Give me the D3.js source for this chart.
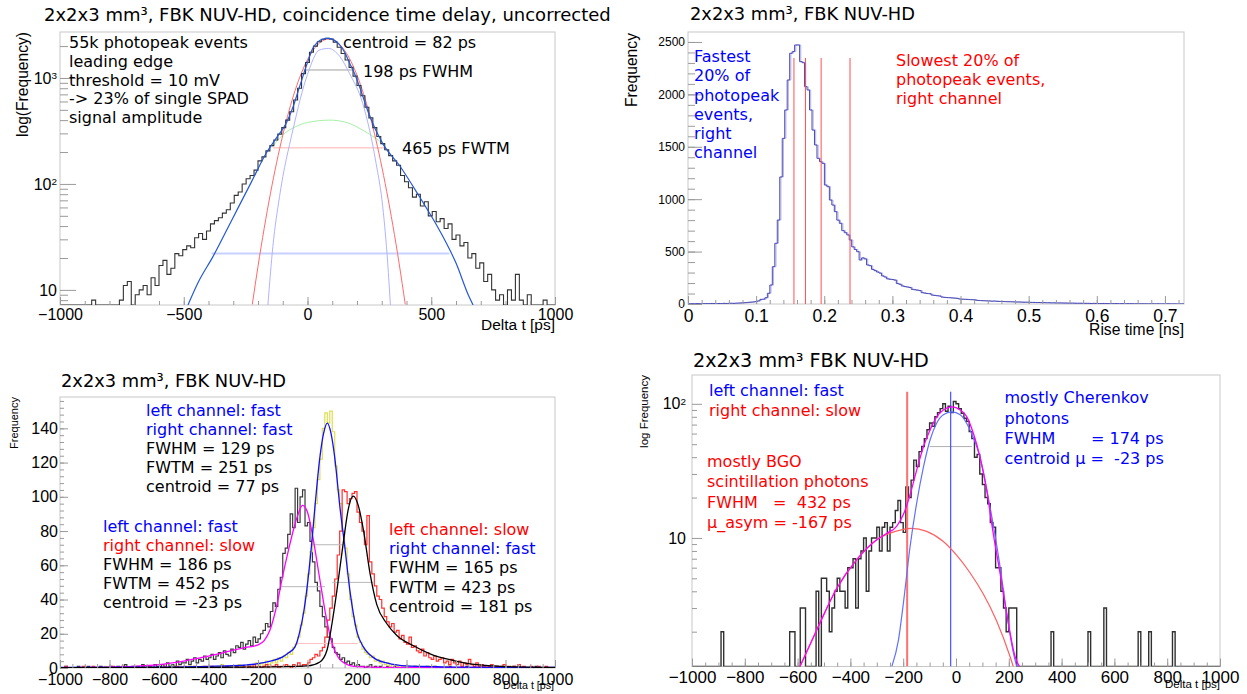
<!DOCTYPE html>
<html><head><meta charset="utf-8">
<script src="https://cdn.jsdelivr.net/npm/d3@7"></script>
<style>body{margin:0;background:#fff}svg{display:block}text{white-space:pre}</style>
</head><body><svg id="chart" width="1247" height="694"></svg>
<script>
// ================= DATA =================
// Panel 1: coincidence time delay (uncorrected), 16 ps bins from -1000 ps
const p1BinStart = -1000, p1BinWidth = 16;
const p1Counts = [
 0,0,0,0,0,0,0,0,8,0, 0,0,0,0,0,8,11,12,7,9, 10,11,9,13,11,17,19,14,16,22,
 21,24,26,25,31,34,30,36,42,45, 48,53,57,66,78,84,100,112,120,135,
 165,180,205,230,260,295,340,400,480,620, 800,1100,1400,1750,2000,2200,2320,2370,2330,2180,
 1950,1700,1480,1260,1040,850,680,530,420,340, 280,240,210,185,165,150,120,105,92,75,
 80,62,68,50,55,44,47,38,42,30, 33,26,28,20,22,16,18,12,14,10,
 8,9,0,10,8,14,8,0,9,0, 0,0,8,0,0];
const p1FitTotal = [[-483,7.2],[-440,12],[-382,20.6],[-301,48],[-227,104],[-167,195],[-120,284],[-86,374],[-60,520],[-32,828],[0,1400],[21,1900],[40,2170],[60,2320],[82,2368],[105,2300],[130,2050],[150,1750],[169,1400],[190,1100],[210,828],[250,445],[304,240],[371,150],[452,76],[532,37],[600,17.9],[653,8.6],[669,7.2]];
const p1FitRed = [[-223,7.3],[-200,16.7],[-150,80.7],[-100,288],[-50,763],[0,1491],[50,2155],[86,2330],[120,2173],[170,1522],[220,788],[270,302],[320,85],[370,17.9],[395,7.3]];
const p1FitLavender = [[-160,7.2],[-140,25.6],[-113,76],[-59,323],[0,1080],[48,1837],[85,1900],[130,1600],[170,1100],[223,577],[277,157],[304,61],[324,18],[335,7.2]];
const p1FitGreen = [[-145,220],[-100,290],[-50,345],[0,380],[89,400],[150,385],[200,345],[250,295],[290,255],[315,225]];
const p1WidthLines = [  // [level, from, to]
 [1190,-17,181],[219,-140,312],[22,-388,573]];
const p1XTicks = [-1000,-500,0,500,1000];
const p1YTicks = [10,100,1000];

// Panel 2: rise time, 200 bins of 0.00364 ns
const p2BinStart = 0, p2BinWidth = 0.00364;
const p2Counts = [
 2,3,2,4,3,2,3,4,3,5,4,3,5,4,6,5,6,7,6,8,
 9,10,12,13,16,18,20,23,30,44,46,60,102,181,356,579,801,1212,1580,1851,
 2137,2392,2408,2471,2471,2312,2302,2073,2042,1851,1660,1517,1390,1358,1342,1135,1119,992,944,881,
 800,770,700,680,659,611,545,520,499,420,440,430,372,365,330,318,305,295,268,258,
 240,236,233,228,195,188,172,166,162,158,140,136,132,128,108,104,100,98,85,82,
 79,76,66,63,61,60,58,56,54,48,46,45,44,42,41,40,35,33,32,31,
 30,29,27,28,26,25,24,23,22,22,21,20,19,19,18,17,17,16,15,15,
 14,14,13,13,12,12,11,11,10,10,10,9,9,8,8,8,7,7,7,6,
 6,6,5,6,5,5,4,5,4,4,4,3,4,3,3,3,2,3,3,2,
 2,3,2,2,2,1,2,2,1,2,1,1,1,2,1,1,1,0,1,1];
const p2CutLines = [0.1555,0.1724,0.1954,0.2378];
const p2XTicks = [0,0.1,0.2,0.3,0.4,0.5,0.6,0.7];
const p2YTicks = [0,500,1000,1500,2000,2500];

// Panel 3: fast/slow selections, 10 ps bins from -1000
const p3BinStart = -1000, p3BinWidth = 10;
const p3FastSlow = [
 0,0,1,0,0,0,0,1,0,0, 0,1,0,0,0,0,1,0,0,0, 1,0,0,1,0,0,2,0,0,1, 0,1,0,2,0,1,1,0,2,1,
 1,2,0,3,1,2,1,4,2,3, 3,5,2,4,6,3,5,4,7,5, 6,8,5,7,9,6,10,8,7,11, 9,13,12,15,11,14,16,13,18,15,
 17,20,22,26,24,33,38,36,46,53, 67,70,78,90,82,105,85,100,104,83,
 85,74,62,50,45,36,30,24,18,17, 12,9,8,5,6,3,4,2,3,1, 2,1,1,0,1,2,0,1,0,1,
 0,0,1,0,0,1,0,0,0,1, 0,0,0,1,0,0,0,0,1,0, 0,1,0,0,0,0,0,1,0,0, 0,0,0,0,1,0,0,0,0,0,
 1,0,0,0,0,0,1,0,0,0, 0,0,0,1,0,0,0,0,0,0, 0,0,1,0,0,0,0,0,0,0];
const p3FastFast = [
 0,0,0,0,0,0,0,0,0,0, 0,0,0,0,0,0,0,0,1,0, 0,0,0,0,0,0,0,0,0,0, 0,0,0,1,0,0,0,0,0,0,
 0,0,0,0,0,1,0,0,0,0, 0,0,1,0,0,0,0,1,0,0, 1,0,0,1,0,2,0,1,1,0, 1,0,2,1,0,1,2,1,0,3,
 2,3,1,4,2,3,5,3,6,4, 7,6,9,8,12,14,18,25,32,42,
 55,68,82,96,110,122,140,149,143,150, 138,118,104,96,80,70,55,40,30,25, 18,15,11,9,8,6,7,4,5,3,
 4,2,3,1,2,2,1,0,1,1, 0,1,0,0,1,0,0,0,0,1, 0,0,0,0,0,0,1,0,0,0, 0,0,0,0,0,0,0,0,0,0,
 0,0,1,0,0,0,0,0,0,0, 0,0,0,0,0,0,0,0,0,0, 0,0,0,0,0,0,0,0,0,0];
const p3SlowFast = [
 0,0,1,0,0,0,0,0,0,1, 0,0,0,1,0,0,0,0,0,0, 0,1,0,0,0,1,0,0,0,0, 0,0,0,1,0,0,1,0,0,0,
 0,0,1,0,0,0,0,1,0,0, 1,0,0,0,1,0,0,0,1,0, 0,1,0,0,0,1,0,1,0,0, 0,1,0,0,1,0,1,0,2,0,
 1,0,1,2,0,1,1,2,0,1, 1,2,1,0,2,1,3,1,2,2,
 3,5,6,8,7,10,12,18,28,35, 42,52,66,80,104,103,96,99,102,103, 91,85,80,72,89,62,55,48,42,40,
 35,30,27,24,26,21,22,17,19,15, 14,18,12,13,10,9,11,7,9,6, 5,7,4,5,6,3,4,2,5,3, 2,4,1,3,2,5,2,1,3,1,
 2,1,0,1,2,0,1,0,1,2, 0,1,0,1,0,2,0,1,0,0, 1,0,0,1,0,0,1,0,0,0];
const p3FitFastFast = [[-1000,0.3],[-600,0.5],[-400,1],[-300,1.3],[-200,2.5],[-150,4],[-100,6.5],[-75,9],[-50,12.5],[-30,22],[-15,33],[-3,45.5],[17,72.8],[30,94],[50,123],[65,137],[80,143],[95,137],[110,123],[131,94],[151,70.5],[171,45.5],[185,32],[198,22],[225,12.5],[250,8],[279,4.9],[320,3],[360,1.8],[400,1.2],[500,0.8],[600,0.5],[1000,0.3]];
const p3FitFastSlow = [[-1000,0.2],[-800,0.5],[-700,1],[-600,2],[-500,4],[-450,5.5],[-400,7],[-350,8.5],[-300,10.5],[-250,12],[-200,13.5],[-175,16],[-152,22],[-125,36],[-100,54],[-75,70],[-57,80.6],[-40,89],[-20,95],[0,91],[21.5,76.6],[48,53.3],[75,30],[100,14],[125,6],[150,2.8],[175,1.3],[200,0.8],[300,0.4],[1000,0.2]];
const p3FitSlowFast = [[-1000,0.2],[-500,0.3],[-200,0.5],[0,1.2],[50,3.5],[79,10.5],[99,26],[119,45.5],[146,74.7],[165,93],[185,100.4],[205,95],[226,80.6],[253,55],[280,37],[320,26],[361,19],[428,13],[500,8],[587,4.5],[650,2.5],[750,1.2],[850,0.6],[1000,0.3]];
const p3WidthLines = [[72,13,142],[47.5,-115,71],[50,100,265]];
const p3TenthLines = [[14.3,-48,203]];
const p3XTicks = [-1000,-800,-600,-400,-200,0,200,400,600,800,1000];
const p3YTicks = [0,20,40,60,80,100,120,140];

// Panel 4: fast left / slow right, log scale, 10 ps bins from -1000
const p4BinStart = -1000, p4BinWidth = 10;
const p4Counts = [
 0,0,0,0,0,0,0,0,0,0, 0,2,0,0,0,0,0,0,0,0, 0,0,0,0,0,0,0,0,0,0, 0,0,0,0,0,0,0,2,2,0,
 0,3,3,0,0,0,0,4,0,5, 5,4,2,3,4,5,4,4,3,6, 6,7,3,7,8,10,4,8,10,10, 12,8,12,13,8,12,13,16,19,13,
 11,24,20,27,38,34,44,48,55,64, 72,68,80,86,92,100,88,96,86,104,
 100,92,85,78,74,62,55,40,42,30, 25,20,18,13,12,6,6,4,3,2, 3,3,3,0,0,0,0,0,0,0,
 0,0,0,0,0,0,2,0,0,0, 0,0,0,0,0,0,0,0,0,0, 2,0,0,0,0,0,3,0,0,0, 0,0,0,0,0,0,0,0,0,2,
 0,0,0,2,0,0,0,0,0,0, 0,0,2,0,0,0,0,0,0,0, 0,0,0,0,0,0,0,0,0,0];
const p4FitTotal = [[-591,1.1],[-528,2.05],[-452,4.2],[-376,6.9],[-300,9.7],[-263,10.8],[-225,12.2],[-199,15],[-174,21],[-149,32],[-123,48],[-98,64],[-73,80],[-48,90],[-16,95],[16,90],[41,80],[66,60],[91,40],[116,22.8],[141,10.8],[167,5.45],[192,2.74],[224,1.3],[240,1.1]];
const p4FitCherenkov = [[-243,1.1],[-218,1.73],[-199,3.3],[-174,8.6],[-149,18.2],[-123,34],[-98,54],[-73,72],[-48,83],[-16,87],[16,83],[53,64],[91,40],[129,17],[167,6.1],[192,2.74],[217,1.4],[230,1.1]];
const p4FitBGO = [[-591,1.1],[-528,2.05],[-452,4.2],[-376,6.9],[-300,9.7],[-263,10.6],[-199,11.6],[-170,11.8],[-111,11.2],[-48,9.4],[3,7.4],[53,5.5],[104,3.8],[154,2.4],[205,1.3],[217,1.1]];
const p4WidthLines = [[48,-100,60]];
const p4Markers = [-185,-20];  // red (BGO), blue (Cherenkov)
const p4XTicks = [-1000,-800,-600,-400,-200,0,200,400,600,800,1000];
const p4YTicks = [10,100];

// ================= DRAWING =================
const svg = d3.select("#chart");
const TF = "DejaVu Sans", AF = "Liberation Sans";
let clipN = 0;

function panel(o) {
  const g = svg.append("g");
  const x = d3.scaleLinear().domain(o.xd).range([o.l, o.r]);
  const y = (o.log ? d3.scaleLog() : d3.scaleLinear()).domain(o.yd).range([o.b, o.t]);
  const id = "clip" + (clipN++);
  svg.append("clipPath").attr("id", id).append("rect")
    .attr("x", o.l).attr("y", o.t).attr("width", o.r - o.l).attr("height", o.b - o.t);
  g.append("rect").attr("x", o.l).attr("y", o.t).attr("width", o.r - o.l).attr("height", o.b - o.t)
    .attr("fill", "none").attr("stroke", "#c8c8c8").attr("stroke-width", 1);
  const plot = g.append("g").attr("clip-path", `url(#${id})`);
  return {g, plot, x, y, o};
}

function styleAxis(s) {
  s.select(".domain").remove();
  s.selectAll(".tick line").attr("stroke", "#9a9a9a");
  s.selectAll(".tick text").attr("fill", "#000");
}

function axes(P, a) {
  const {g, x, y, o} = P;
  g.append("g").attr("transform", `translate(0,${o.b})`)
    .call(d3.axisBottom(x).tickValues(a.xMinor).tickSize(-a.xMinLen).tickFormat(""))
    .call(styleAxis);
  g.append("g").attr("transform", `translate(0,${o.b})`)
    .attr("font-family", AF).attr("font-size", a.xFont)
    .call(d3.axisBottom(x).tickValues(a.xMajor).tickSize(-a.xMajLen).tickPadding(a.xPad).tickFormat(a.xFmt))
    .call(styleAxis)
    .call(s => s.selectAll("text").attr("font-family", AF).attr("font-size", a.xFont));
  g.append("g").attr("transform", `translate(${o.l},0)`)
    .call(d3.axisLeft(y).tickValues(a.yMinor).tickSize(-a.yMinLen).tickFormat(""))
    .call(styleAxis);
  const gy = g.append("g").attr("transform", `translate(${o.l},0)`)
    .call(d3.axisLeft(y).tickValues(a.yMajor).tickSize(-a.yMajLen).tickPadding(a.yPad).tickFormat(a.yFmt || (d => d)))
    .call(styleAxis)
    .call(s => s.selectAll("text").attr("font-family", AF).attr("font-size", a.yFont));
  if (a.powers) {
    gy.selectAll(".tick text").each(function(d) {
      const e = Math.round(Math.log10(d));
      const t = d3.select(this).text("10");
      if (e > 1) t.append("tspan").attr("dy", "-0.45em").attr("font-size", "0.62em").text(e);
    });
  }
}

function histPath(P, start, w, vals) {
  const [lo, hi] = P.y.domain();
  const c = v => P.y(Math.max(lo, Math.min(hi, v)));
  let p = "";
  vals.forEach((v, i) => {
    const x0 = P.x(start + i * w), x1 = P.x(start + (i + 1) * w);
    p += (i === 0 ? `M${x0},${c(v)}` : `V${c(v)}`) + `H${x1}`;
  });
  return p;
}
function drawHist(P, start, w, vals, color, width) {
  P.plot.append("path").attr("d", histPath(P, start, w, vals)).attr("fill", "none")
    .attr("stroke", color).attr("stroke-width", width || 1);
}
function drawCurve(P, pts, color, width) {
  const line = d3.line().x(d => P.x(d[0])).y(d => P.y(d[1])).curve(d3.curveMonotoneX);
  P.plot.append("path").attr("d", line(pts)).attr("fill", "none")
    .attr("stroke", color).attr("stroke-width", width || 1.2);
}
function drawHLines(P, lines, color, width) {
  P.plot.selectAll(null).data(lines).enter().append("line")
    .attr("x1", d => P.x(d[1])).attr("x2", d => P.x(d[2]))
    .attr("y1", d => P.y(d[0])).attr("y2", d => P.y(d[0]))
    .attr("stroke", color).attr("stroke-width", width || 1);
}
function text(x, y, s, opt) {
  opt = opt || {};
  const t = svg.append("text").attr("x", x).attr("y", y).text(s)
    .attr("font-family", opt.family || TF).attr("font-size", opt.size || 16)
    .attr("fill", opt.color || "#000").attr("text-anchor", opt.anchor || "start");
  if (opt.rotate) t.attr("transform", `rotate(-90,${x},${y})`);
  if (opt.fit) {
    const w = t.node().getComputedTextLength();
    t.attr("font-size", (opt.size || 16) * opt.fit / w);
  }
  return t;
}
function block(x, y0, dy, lines, color, size) {
  lines.forEach((s, i) => text(x, y0 + i * dy, s, {color, size: size || 16}));
}
const fmtInt = d3.format("d");

// ---------- Panel 1 ----------
const P1 = panel({l: 60, r: 555, t: 32, b: 305, xd: [-1000, 1000], yd: [7.2, 2716], log: true});
axes(P1, {
  xMajor: p1XTicks, xMinor: d3.range(-1000, 1001, 100), xMajLen: 8, xMinLen: 4, xPad: 3.5, xFont: 16, xFmt: fmtInt,
  yMajor: p1YTicks, yMinor: [8, 9, 20, 30, 40, 50, 60, 70, 80, 90, 200, 300, 400, 500, 600, 700, 800, 900, 2000],
  yMajLen: 16, yMinLen: 8, yPad: 3, yFont: 16, powers: true
});
drawHLines(P1, [p1WidthLines[2]], "#c8d0ff", 2);
drawHLines(P1, [p1WidthLines[1]], "#ffb0b0", 1);
drawHLines(P1, [p1WidthLines[0]], "#a0a0a0", 1);
drawCurve(P1, p1FitGreen, "#a8f0a8", 1);
drawCurve(P1, p1FitLavender, "#b0b4ff", 1);
drawCurve(P1, p1FitRed, "#ff6a6a", 1);
drawHist(P1, p1BinStart, p1BinWidth, p1Counts, "#333", 1.1);
drawCurve(P1, p1FitTotal, "#2358d8", 1.2);
text(44, 21, "2x2x3 mm³, FBK NUV-HD, coincidence time delay, uncorrected", {size: 18, fit: 567});
text(28, 32, "log(Frequency)", {family: AF, size: 16, rotate: true, anchor: "end", fit: 105});
block(69, 48.3, 18.6, ["55k photopeak events", "leading edge", "threshold = 10 mV", "-> 23% of single SPAD", "signal amplitude"], "#000", 16);
text(343, 48.3, "centroid = 82 ps");
text(363, 77.3, "198 ps FWHM");
text(402, 154, "465 ps FWTM");
text(555, 330, "Delta t [ps]", {family: AF, size: 15, anchor: "end", fit: 74});

// ---------- Panel 2 ----------
const P2 = panel({l: 688, r: 1184, t: 32, b: 304, xd: [0, 0.728], yd: [0, 2595]});
axes(P2, {
  xMajor: p2XTicks, xMinor: d3.range(0, 0.7281, 0.02), xMajLen: 8, xMinLen: 4, xPad: 6, xFont: 17.5,
  xFmt: d => d === 0 ? "0" : d3.format(".1f")(d),
  yMajor: p2YTicks, yMinor: d3.range(0, 2595, 100), yMajLen: 14, yMinLen: 7, yPad: 3, yFont: 12
});
P2.plot.append("path").attr("d", histPath(P2, p2BinStart, p2BinWidth, p2Counts)).attr("fill", "none")
  .attr("stroke", "#b4b4ec").attr("stroke-width", 1).attr("transform", "translate(1.2,0)");
drawHist(P2, p2BinStart, p2BinWidth, p2Counts, "#4a4ab4", 1);
P2.plot.selectAll(null).data(p2CutLines).enter().append("line")
  .attr("x1", d => P2.x(d)).attr("x2", d => P2.x(d)).attr("y1", 58).attr("y2", 304)
  .attr("stroke", "#ff5050").attr("stroke-width", 1);
text(690, 20, "2x2x3 mm³, FBK NUV-HD", {size: 18, fit: 225});
text(637, 33, "Frequency", {family: AF, size: 16, rotate: true, anchor: "end", fit: 74});
block(694, 62.3, 19.1, ["Fastest", "20% of", "photopeak", "events,", "right", "channel"], "#0000ff", 16);
block(896, 65.7, 19.3, ["Slowest 20% of", "photopeak events,", "right channel"], "#ff0000", 16);
text(1184, 335, "Rise time [ns]", {family: AF, size: 15, anchor: "end", fit: 95});

// ---------- Panel 3 ----------
const P3 = panel({l: 60, r: 555, t: 397, b: 668, xd: [-1000, 1000], yd: [0, 158.3]});
axes(P3, {
  xMajor: p3XTicks, xMinor: d3.range(-1000, 1001, 50), xMajLen: 8, xMinLen: 4, xPad: 5.5, xFont: 16, xFmt: fmtInt,
  yMajor: p3YTicks, yMinor: d3.range(0, 158, 4), yMajLen: 8, yMinLen: 4, yPad: 2, yFont: 16
});
drawHist(P3, p3BinStart, p3BinWidth, p3FastSlow, "#3a3a3a", 1.2);
drawHist(P3, p3BinStart, p3BinWidth, p3FastFast, "#dede50", 1.2);
drawHist(P3, p3BinStart, p3BinWidth, p3SlowFast, "#ff3030", 1.2);
drawHLines(P3, p3TenthLines, "#ffc0c0", 1);
drawHLines(P3, p3WidthLines, "#b8b8b8", 1);
drawCurve(P3, p3FitFastSlow, "#ff00ff", 1.3);
drawCurve(P3, p3FitFastFast, "#1010ff", 1.3);
drawCurve(P3, p3FitSlowFast, "#000000", 1.3);
text(61, 386.7, "2x2x3 mm³, FBK NUV-HD", {size: 18, fit: 225});
text(18, 397, "Frequency", {family: AF, size: 11, rotate: true, anchor: "end", fit: 52});
block(146, 416, 19.1, ["left channel: fast", "right channel: fast"], "#0000ff", 16);
block(146, 454.2, 19.1, ["FWHM = 129 ps", "FWTM = 251 ps", "centroid = 77 ps"], "#000", 16);
text(103, 531.7, "left channel: fast", {color: "#0000ff"});
text(103, 550.8, "right channel: slow", {color: "#ff0000"});
block(103, 569.9, 19.1, ["FWHM = 186 ps", "FWTM = 452 ps", "centroid = -23 ps"], "#000", 16);
text(389, 535, "left channel: slow", {color: "#ff0000"});
text(389, 554.2, "right channel: fast", {color: "#0000ff"});
block(389, 573.4, 19.2, ["FWHM = 165 ps", "FWTM = 423 ps", "centroid = 181 ps"], "#000", 16);
text(554, 689, "Delta t [ps]", {family: AF, size: 10, anchor: "end", fit: 51});

// ---------- Panel 4 ----------
const P4 = panel({l: 692, r: 1220, t: 375, b: 666.5, xd: [-1000, 1000], yd: [1.1, 164], log: true});
axes(P4, {
  xMajor: p4XTicks, xMinor: d3.range(-1000, 1001, 50), xMajLen: 8, xMinLen: 4, xPad: 4.3, xFont: 17, xFmt: fmtInt,
  yMajor: p4YTicks, yMinor: [2, 3, 4, 5, 6, 7, 8, 9, 20, 30, 40, 50, 60, 70, 80, 90],
  yMajLen: 10, yMinLen: 5, yPad: 6, yFont: 16, powers: true
});
drawHLines(P4, p4WidthLines, "#b0b0b0", 1);
drawHist(P4, p4BinStart, p4BinWidth, p4Counts, "#303030", 1.4);
P4.plot.append("line").attr("x1", P4.x(p4Markers[0])).attr("x2", P4.x(p4Markers[0]))
  .attr("y1", 391.7).attr("y2", 666.5).attr("stroke", "#ff7070").attr("stroke-width", 2);
P4.plot.append("line").attr("x1", P4.x(p4Markers[1])).attr("x2", P4.x(p4Markers[1]))
  .attr("y1", 391.7).attr("y2", 666.5).attr("stroke", "#2030ff").attr("stroke-width", 1);
drawCurve(P4, p4FitBGO, "#ff6060", 1.2);
drawCurve(P4, p4FitCherenkov, "#6070ff", 1.2);
drawCurve(P4, p4FitTotal, "#ff00ff", 1.3);
text(693, 367, "2x2x3 mm³ FBK NUV-HD", {size: 18, fit: 236});
text(648, 375, "log Frequency", {family: AF, size: 11, rotate: true, anchor: "end", fit: 73});
text(709, 395.7, "left channel: fast", {color: "#0000ff"});
text(709, 416.3, "right channel: slow", {color: "#ff0000"});
block(707, 466.7, 20.5, ["mostly BGO", "scintillation photons", "FWHM   =  432 ps", "μ_asym = -167 ps"], "#ff0000", 16);
block(1004.5, 403.3, 20.3, ["mostly Cherenkov", "photons", "FWHM       = 174 ps", "centroid μ =  -23 ps"], "#0000ff", 16);
text(1220, 688, "Delta t [ps]", {family: AF, size: 11, anchor: "end", fit: 55});
</script></body></html>
